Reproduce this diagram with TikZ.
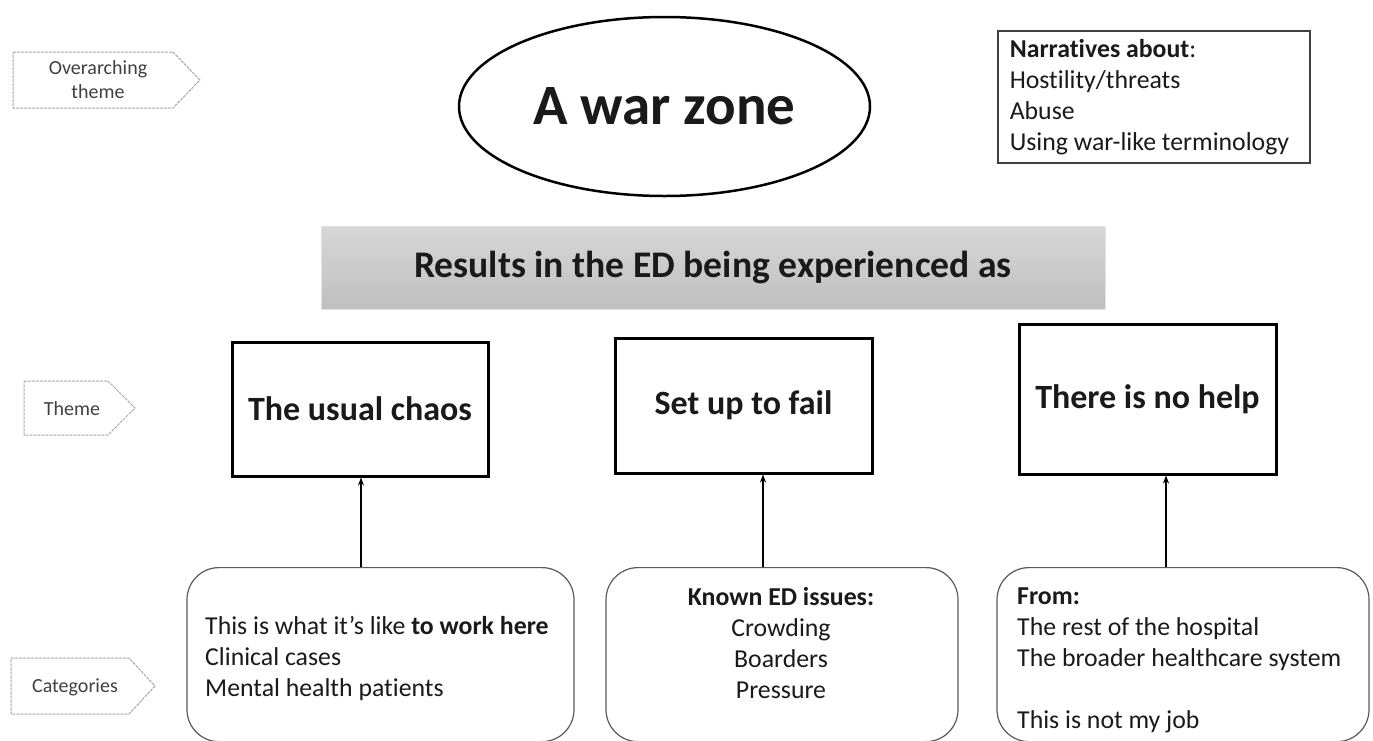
\documentclass[tikz,border=0pt]{standalone}
\usepackage{fontspec}
\setmainfont{Carlito}[Ligatures=NoCommon]
\usetikzlibrary{arrows.meta,shapes.geometric}
\definecolor{tagline}{HTML}{A6A6A6}
\definecolor{tagtxt}{HTML}{404040}
\definecolor{txt}{HTML}{1A1A1A}
\definecolor{catline}{HTML}{5A5A5A}
\definecolor{narrline}{HTML}{404040}
\definecolor{bantop}{HTML}{D7D7D7}
\definecolor{banbot}{HTML}{BFBFBF}
\definecolor{banline}{HTML}{E3E3E3}
\newcommand\fsTag{\fontsize{20}{24}\selectfont}
\newcommand\fsBody{\fontsize{25.8}{31}\selectfont}
\newcommand\fsTheme{\fontsize{34}{40}\selectfont\bfseries}
\newcommand\fsBan{\fontsize{37.6}{44}\selectfont\bfseries}
\newcommand\fsWar{\fontsize{57}{64}\selectfont\bfseries}
\begin{document}
\begin{tikzpicture}[x=1pt,y=-1pt,
  tagshape/.style={draw=tagline, line width=1pt, dash pattern=on 3pt off 1pt},
  tagtext/.style={text=tagtxt, font=\fsTag, align=center, inner sep=0pt},
  themebox/.style={draw=black, line width=3pt, text=txt, font=\fsTheme, inner sep=0pt},
  catbox/.style={draw=catline, line width=1.2pt, rounded corners=32pt, inner sep=0pt},
  cattext/.style={text=txt, font=\fsBody, inner sep=0pt},
  arr/.style={draw=black, line width=1.3pt, -{Stealth[length=8pt,width=6pt]}}
]
\useasboundingbox (0,0) rectangle (1373,740);
\fill[white] (0,0) rectangle (1373,740);

% left tags
\draw[tagshape] (13,52) -- (173,52) -- (200,80) -- (173,108) -- (13,108) -- cycle;
\node[tagtext] (tagO) at (98,80) {Overarching\\theme};
\draw[tagshape] (24,381) -- (108,381) -- (135,408) -- (108,435) -- (24,435) -- cycle;
\node[tagtext] (tagT) at (72,409) {Theme};
\draw[tagshape] (11,658) -- (129,658) -- (155,686) -- (129,714) -- (11,714) -- cycle;
\node[tagtext] (tagC) at (75,687) {Categories};

% overarching theme
\node[draw=black, line width=2.5pt, ellipse, minimum width=411pt, minimum height=179pt,
  inner sep=0pt, text=txt, font=\fsWar] (war) at (664.5,106.5) {A war zone};

\node[draw=narrline, line width=1.5pt, anchor=north west, text width=288pt,
  inner xsep=12pt, inner ysep=0pt, minimum height=132pt, align=flush left,
  text=txt, font=\fsBody] (narr) at (997,30)
  {\textbf{Narratives about}:\\Hostility/threats\\Abuse\\Using war-like terminology};

% banner
\node[top color=bantop, bottom color=banbot, draw=banline, line width=0.8pt,
  minimum width=784pt, minimum height=83pt,
  inner sep=0pt, text=txt, font=\fsBan] (res) at (713,267.5) {Results in the ED being experienced as};

% themes
\node[themebox, minimum width=256pt, minimum height=134pt] (t1) at (360,409) {The usual chaos};
\node[themebox, minimum width=257pt, minimum height=135pt] (t2) at (743.5,405.5) {Set up to fail};
\node[themebox, minimum width=257pt, minimum height=150pt] (t3) at (1147.5,399) {There is no help};

% categories
\node[catbox, minimum width=387pt, minimum height=174pt, anchor=north] (c1) at (380.5,567) {};
\node[catbox, minimum width=352pt, minimum height=174pt, anchor=north] (c2) at (782,567) {};
\node[catbox, minimum width=372pt, minimum height=174pt, anchor=north] (c3) at (1183,567) {};

\node[cattext, anchor=west, align=left] (c1t) at (205,658)
  {This is what it’s like \textbf{to work here}\\Clinical cases\\Mental health patients};
\node[cattext, align=center] (c2t) at (781,643)
  {\textbf{Known ED issues:}\\Crowding\\Boarders\\Pressure};
\node[cattext, anchor=west, align=left] (c3t) at (1017,660)
  {\textbf{From:}\\The rest of the hospital\\The broader healthcare system\\[31pt]This is not my job};

% arrows
\coordinate (ax1) at (361,0);
\coordinate (ax2) at (763,0);
\coordinate (ax3) at (1166,0);
\draw[arr] (c1.north -| ax1) -- (t1.south -| ax1);
\draw[arr] (c2.north -| ax2) -- (t2.south -| ax2);
\draw[arr] (c3.north -| ax3) -- (t3.south -| ax3);
\end{tikzpicture}
\end{document}
